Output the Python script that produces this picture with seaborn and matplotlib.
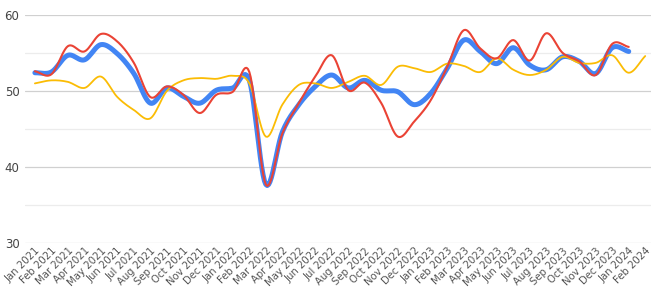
import numpy as np
import pandas as pd
import seaborn as sns
import matplotlib
matplotlib.use("Agg")
import matplotlib.pyplot as plt

# month labels on the x axis
months = ["Jan 2021", "Feb 2021", "Mar 2021", "Apr 2021", "May 2021", "Jun 2021",
          "Jul 2021", "Aug 2021", "Sep 2021", "Oct 2021", "Nov 2021", "Dec 2021",
          "Jan 2022", "Feb 2022", "Mar 2022", "Apr 2022", "May 2022", "Jun 2022",
          "Jul 2022", "Aug 2022", "Sep 2022", "Oct 2022", "Nov 2022", "Dec 2022",
          "Jan 2023", "Feb 2023", "Mar 2023", "Apr 2023", "May 2023", "Jun 2023",
          "Jul 2023", "Aug 2023", "Sep 2023", "Oct 2023", "Nov 2023", "Dec 2023",
          "Jan 2024", "Feb 2024"]

# series (blue and red stop at Jan 2024)
blue = [52.4, 52.5, 54.7, 54.1, 56.1, 54.9, 52.3, 48.4, 50.4, 49.3, 48.4, 50.1,
        50.4, 51.4, 37.7, 44.6, 48.2, 50.6, 52.1, 50.4, 51.4, 50.1, 49.9, 48.2,
        49.7, 53.0, 56.7, 55.2, 53.6, 55.7, 53.4, 52.8, 54.5, 53.9, 52.3, 55.7,
        55.2]
red = [52.6, 52.2, 55.9, 55.2, 57.5, 56.5, 53.7, 49.2, 50.6, 49.5, 47.1, 49.5,
       49.9, 52.5, 37.7, 44.4, 48.4, 51.9, 54.7, 50.1, 51.1, 48.4, 44.0, 46.0,
       48.8, 53.2, 58.0, 55.6, 54.3, 56.7, 54.0, 57.6, 55.0, 53.9, 52.1, 56.2,
       55.8]
yellow = [51.0, 51.4, 51.2, 50.4, 51.9, 49.2, 47.5, 46.4, 50.0, 51.4, 51.7, 51.6,
          52.0, 51.0, 44.0, 48.2, 50.8, 51.0, 50.4, 51.2, 52.0, 50.8, 53.2, 53.0,
          52.5, 53.6, 53.3, 52.5, 54.3, 52.8, 52.1, 52.8, 54.5, 53.7, 53.7, 54.7,
          52.4, 54.6]


def smooth(values, steps=12):
    # Catmull-Rom curve through the points, for a smooth line look
    y = np.asarray(values, dtype=float)
    x = np.arange(len(y), dtype=float)
    p = np.concatenate([[2 * y[0] - y[1]], y, [2 * y[-1] - y[-2]]])
    xs, ys = [], []
    for i in range(len(y) - 1):
        t = np.linspace(0, 1, steps, endpoint=False)
        p0, p1, p2, p3 = p[i], p[i + 1], p[i + 2], p[i + 3]
        seg = 0.5 * ((2 * p1) + (-p0 + p2) * t + (2 * p0 - 5 * p1 + 4 * p2 - p3) * t ** 2
                     + (-p0 + 3 * p1 - 3 * p2 + p3) * t ** 3)
        xs.extend(x[i] + t)
        ys.extend(seg)
    xs.append(x[-1])
    ys.append(y[-1])
    return np.array(xs), np.array(ys)


sns.set_style("white")
plt.rcParams["font.family"] = ["DejaVu Sans"]

fig = plt.figure(figsize=(6.51, 2.95), dpi=100)
ax = fig.add_axes([25 / 651, 1 - 243 / 295, 1 - 25 / 651, (243 - 15) / 295])

for vals, col, lw in [(blue, "#4285F4", 3.6), (yellow, "#FBBC04", 1.3), (red, "#EA4335", 1.5)]:
    xs, ys = smooth(vals)
    sns.lineplot(x=xs, y=ys, color=col, linewidth=lw, ax=ax, solid_capstyle="round")

ax.set_xlim(-0.6, 37.35)
ax.set_ylim(30, 60)
ax.set_yticks([30, 40, 50, 60])
ax.set_yticks([35, 45, 55], minor=True)
ax.grid(axis="y", which="major", color="#d0d0d0", linewidth=0.9)
ax.grid(axis="y", which="minor", color="#ececec", linewidth=0.9)
ax.set_axisbelow(True)
for s in ax.spines.values():
    s.set_visible(False)

ax.set_xticks(range(len(months)))
ax.set_xticklabels(months, rotation=45, ha="right", rotation_mode="anchor",
                   fontsize=7.3, color="#555555")
ax.tick_params(axis="x", length=0, pad=2)
ax.tick_params(axis="y", length=0, labelsize=8.5, labelcolor="#444444", pad=4)
ax.set_xlabel("")
ax.set_ylabel("")

fig.savefig("out.png", dpi=100, facecolor="white")
